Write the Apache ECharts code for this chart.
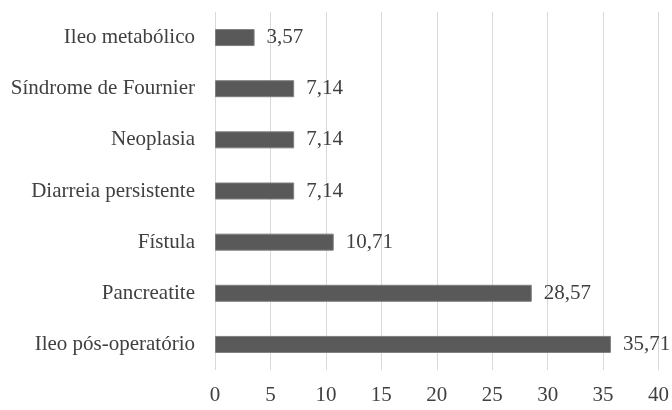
<!DOCTYPE html>
<html>
<head>
<meta charset="utf-8">
<script src="https://cdn.jsdelivr.net/npm/echarts@6/dist/echarts.min.js"></script>
<style>
  html, body { margin: 0; padding: 0; background: #fff; }
  #main { width: 672px; height: 410px; }
</style>
</head>
<body>
<div id="main"></div>
<script>
// categories listed bottom to top (ECharts category y axis starts at the bottom)
const categories = [
  'Ileo pós-operatório',
  'Pancreatite',
  'Fístula',
  'Diarreia persistente',
  'Neoplasia',
  'Síndrome de Fournier',
  'Ileo metabólico'
];
const values = [35.71, 28.57, 10.71, 7.14, 7.14, 7.14, 3.57];
const xTicks = [0, 5, 10, 15, 20, 25, 30, 35, 40];

const font = '"Liberation Serif", "Times New Roman", serif';
const textColor = '#404040';

const chart = echarts.init(document.getElementById('main'));
chart.setOption({
  animation: false,
  grid: { left: 215, right: 12, top: 12, bottom: 40 },
  xAxis: {
    type: 'value',
    min: xTicks[0],
    max: xTicks[xTicks.length - 1],
    interval: 5,
    axisLine: { show: false },
    axisTick: { show: false },
    axisLabel: { color: textColor, fontFamily: font, fontSize: 21, margin: 15 },
    splitLine: { show: true, lineStyle: { color: '#d9d9d9', width: 1 } }
  },
  yAxis: {
    type: 'category',
    data: categories,
    axisLine: { show: false },
    axisTick: { show: false },
    axisLabel: { color: textColor, fontFamily: font, fontSize: 21, margin: 20 }
  },
  series: [{
    type: 'bar',
    data: values,
    barWidth: 17,
    itemStyle: { color: '#595959', borderColor: '#7f7f7f', borderWidth: 1 },
    label: {
      show: true,
      position: 'right',
      distance: 12,
      color: textColor,
      fontFamily: font,
      fontSize: 21,
      formatter: p => p.value.toFixed(2).replace('.', ',')
    }
  }]
});
</script>
</body>
</html>
